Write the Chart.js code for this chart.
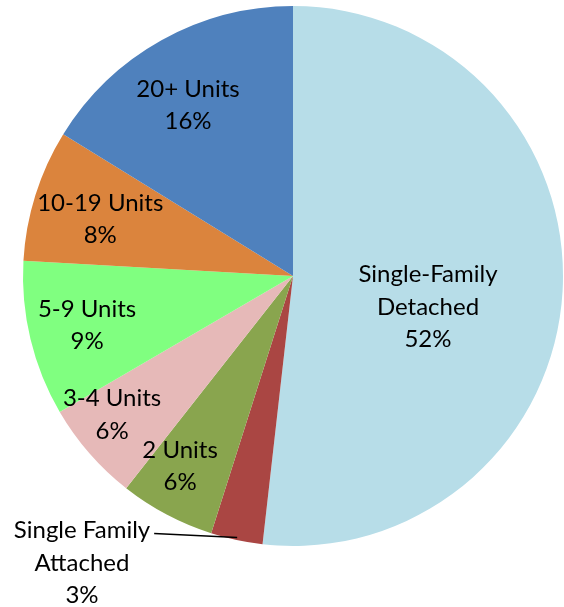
<!DOCTYPE html>
<html><head><meta charset="utf-8">
<script src="https://cdn.jsdelivr.net/npm/chart.js@4/dist/chart.umd.min.js"></script>
<style>html,body{margin:0;padding:0;background:#fff}#wrap{width:564px;height:607px;position:relative}</style>
</head><body><div id="wrap"><canvas id="c"></canvas></div>
<script>
const categories = ["Single-Family\nDetached", "Single Family\nAttached", "2 Units", "3-4 Units", "5-9 Units", "10-19 Units", "20+ Units"];
const shares = [51.8, 3.1, 5.7, 6.0, 9.3, 7.9, 16.2];
const percentLabels = ["52%", "3%", "6%", "6%", "9%", "8%", "16%"];
const colors = ["#B7DDE8", "#AA4643", "#89A54E", "#E6B9B8", "#80FF80", "#DB843D", "#4F81BD"];
// label placement: fraction of radius and angle shift (degrees) from slice middle
const labelRadius = [0.513, null, 0.819, 0.845, 0.784, 0.744, 0.743];
const labelShift = [9.7, 0, 2.8, 3.5, 0.1, -1.1, -2.4];

const FONT = '24px Lato, "Open Sans", sans-serif';
const LINE_H = 32.5;

const labelPlugin = {
  id: 'pieLabels',
  afterDatasetsDraw(chart) {
    const ctx = chart.ctx;
    const meta = chart.getDatasetMeta(0);
    ctx.save();
    ctx.font = FONT;
    ctx.fillStyle = '#000';
    ctx.textAlign = 'center';
    ctx.textBaseline = 'middle';
    meta.data.forEach((arc, i) => {
      const lines = categories[i].split('\n').concat([percentLabels[i]]);
      const mid = (arc.startAngle + arc.endAngle) / 2 + labelShift[i] * Math.PI / 180;
      let cx, cy;
      if (labelRadius[i] === null) {
        // outside label with leader line
        const r = arc.outerRadius * 0.99;
        const ax = arc.x + Math.cos(mid) * r;
        const ay = arc.y + Math.sin(mid) * r;
        cx = arc.x - 211; cy = arc.y + 287;
        const firstY = cy - LINE_H;
        const w = ctx.measureText(lines[0]).width;
        ctx.strokeStyle = '#000';
        ctx.lineWidth = 1.5;
        ctx.beginPath();
        ctx.moveTo(cx + w / 2 + 4, firstY + 3);
        ctx.lineTo(ax, ay);
        ctx.stroke();
      } else {
        const r = arc.outerRadius * labelRadius[i];
        cx = arc.x + Math.cos(mid) * r;
        cy = arc.y + Math.sin(mid) * r;
      }
      const n = lines.length;
      lines.forEach((t, k) => {
        ctx.fillText(t, cx, cy + (k - (n - 1) / 2) * LINE_H);
      });
    });
    ctx.restore();
  }
};

new Chart(document.getElementById('c'), {
  type: 'pie',
  data: {
    labels: categories,
    datasets: [{ data: shares, backgroundColor: colors, borderWidth: 0 }]
  },
  options: {
    responsive: true,
    maintainAspectRatio: false,
    animation: false,
    layout: { padding: { left: 23, right: 1, top: 6, bottom: 61 } },
    plugins: { legend: { display: false }, tooltip: { enabled: false } }
  },
  plugins: [labelPlugin]
});
</script>
</body></html>
